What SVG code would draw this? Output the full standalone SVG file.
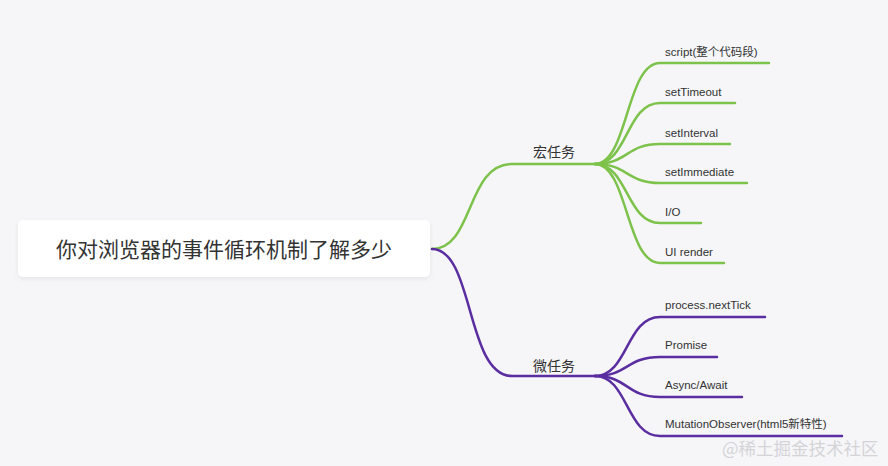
<svg xmlns="http://www.w3.org/2000/svg" width="888" height="466" viewBox="0 0 888 466">
<defs>
<filter id="sh" x="-5%" y="-20%" width="110%" height="150%">
<feDropShadow dx="0" dy="1.5" stdDeviation="2" flood-color="#000" flood-opacity="0.08"/>
</filter>
</defs>
<style>
.g{fill:none;stroke:#7dc24b;stroke-width:2.5;stroke-linecap:round}
.p{fill:none;stroke:#5a2da0;stroke-width:2.5;stroke-linecap:round}
.leaf{font-family:"Liberation Sans","Noto Sans CJK SC",sans-serif;font-size:11.5px;fill:#333}
.mid{font-family:"Noto Sans CJK SC",sans-serif;font-size:14px;fill:#333}
.root{font-family:"Noto Sans CJK SC",sans-serif;font-size:21px;fill:#333}
.wm{font-family:"Noto Sans CJK SC",sans-serif;font-size:17.5px;fill:#d4d4d8}
</style>
<rect width="888" height="466" fill="#f6f6f8"/>
<g id="connectors">
<path class="g" d="M432,249 C474,249 466,164 512,164 L595,164"/>
<path class="g" d="M595,164 C628,164 626,63 660,63 L769,63"/>
<path class="g" d="M595,164 C628,164 626,103 660,103 L735,103"/>
<path class="g" d="M595,164 C628,164 626,144 660,144 L730,144"/>
<path class="g" d="M595,164 C628,164 626,183 660,183 L747,183"/>
<path class="g" d="M595,164 C628,164 626,223 660,223 L701,223"/>
<path class="g" d="M595,164 C628,164 626,263 660,263 L724,263"/>
<path class="p" d="M432,249 C474,249 466,376 512,376 L595,376"/>
<path class="p" d="M595,376 C628,376 626,317 660,317 L765,317"/>
<path class="p" d="M595,376 C628,376 626,357 660,357 L717,357"/>
<path class="p" d="M595,376 C628,376 626,397 660,397 L742,397"/>
<path class="p" d="M595,376 C628,376 626,436 660,436 L842,436"/>
</g>
<g id="root">
<rect x="18" y="220" width="412" height="57" rx="5" fill="#ffffff" filter="url(#sh)"/>
<text class="root" x="224" y="257" text-anchor="middle">你对浏览器的事件循环机制了解多少</text>
</g>
<g id="macro"><text class="mid" x="533" y="157">宏任务</text></g>
<g id="micro"><text class="mid" x="533" y="371">微任务</text></g>
<g id="n-script"><text class="leaf" x="665" y="56">script(整个代码段)</text></g>
<g id="n-settimeout"><text class="leaf" x="665" y="96">setTimeout</text></g>
<g id="n-setinterval"><text class="leaf" x="665" y="137">setInterval</text></g>
<g id="n-setimmediate"><text class="leaf" x="665" y="176">setImmediate</text></g>
<g id="n-io"><text class="leaf" x="665" y="216">I/O</text></g>
<g id="n-ui"><text class="leaf" x="665" y="256">UI render</text></g>
<g id="n-nexttick"><text class="leaf" x="665" y="309">process.nextTick</text></g>
<g id="n-promise"><text class="leaf" x="665" y="349">Promise</text></g>
<g id="n-async"><text class="leaf" x="665" y="389">Async/Await</text></g>
<g id="n-mutation"><text class="leaf" x="665" y="428">MutationObserver(html5新特性)</text></g>
<text class="wm" x="722" y="455">@稀土掘金技术社区</text>
</svg>
